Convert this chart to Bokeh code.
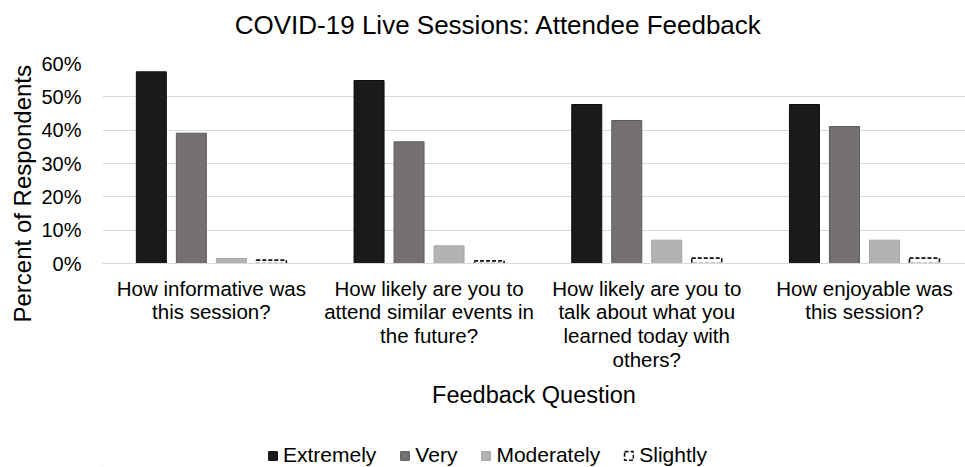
from bokeh.plotting import figure
from bokeh.layouts import column
from bokeh.models import (ColumnDataSource, Range1d, FixedTicker, PrintfTickFormatter,
                          Legend, LegendItem, Title)
from bokeh.core.properties import value
from bokeh.transform import dodge
from bokeh.embed import file_html
from bokeh.resources import INLINE

# ---- data ----
chart_title = "COVID-19 Live Sessions: Attendee Feedback"
questions = [
    "How informative was\nthis session?",
    "How likely are you to\nattend similar events in\nthe future?",
    "How likely are you to\ntalk about what you\nlearned today with\nothers?",
    "How enjoyable was\nthis session?",
]
series = ["Extremely", "Very", "Moderately", "Slightly"]
extremely = [57.5, 54.9, 47.7, 47.7]
very = [39.1, 36.5, 42.9, 41.1]
moderately = [1.5, 5.3, 7.0, 7.0]
slightly = [1.0, 0.8, 1.6, 1.6]
y_ticks = [0, 10, 20, 30, 40, 50, 60]

FONT = "Liberation Sans"
W = 965
LEFT = 102  # frame left edge (frames of the stacked figures are aligned)

# ---- title strip ----
tf = figure(width=W, height=40, output_backend="svg", toolbar_location=None,
            x_range=Range1d(LEFT, W), y_range=Range1d(0, 40),
            x_axis_location=None, y_axis_location=None,
            min_border_left=LEFT, min_border_right=0, min_border_top=0,
            min_border_bottom=0)
tf.grid.visible = False
tf.outline_line_color = None
tf.text(x=[498], y=[16], text=[chart_title], text_align="center",
        text_baseline="middle", text_font=value(FONT), text_font_size="26px",
        text_color="black")

# ---- main chart ----
pos = [i + 0.5 for i in range(len(questions))]
src = ColumnDataSource(dict(x=pos, Extremely=extremely, Very=very,
                            Moderately=moderately, Slightly=slightly))

p = figure(width=W, height=390, output_backend="svg", toolbar_location=None,
           x_range=Range1d(0, 863 / 217.7), y_range=Range1d(0, 60),
           min_border_left=LEFT, min_border_right=0, min_border_top=23,
           min_border_bottom=167)
p.outline_line_color = None
p.background_fill_color = "white"

step = 40 / 217.7
bw = 30 / 217.7
styles = {
    "Extremely": dict(fill_color="#1a1a1a", line_color="#0d0d0d", line_width=1),
    "Very": dict(fill_color="#767171", line_color="#5f5b5b", line_width=1),
    "Moderately": dict(fill_color="#b3b3b3", line_color="#a5a5a5", line_width=1),
    "Slightly": dict(fill_color="white", line_color="#111111", line_width=1.6,
                     line_dash="4 2"),
}
for i, s in enumerate(series):
    off = (i - 1.5) * step
    p.vbar(x=dodge("x", off, range=p.x_range), top=s, width=bw, source=src,
           **styles[s])

p.xaxis.ticker = FixedTicker(ticks=pos)
p.xaxis.major_label_overrides = {pos[i]: q for i, q in enumerate(questions)}
p.xaxis.major_label_text_font = FONT
p.xaxis.major_label_text_font_size = "20.5px"
p.xaxis.major_label_text_color = "black"
p.xaxis.major_label_text_line_height = 1.04
p.xaxis.major_label_standoff = 7
p.xaxis.major_tick_line_color = None
p.xaxis.minor_tick_line_color = None
p.xaxis.axis_line_color = "#d9d9d9"
p.xaxis.axis_label = "Feedback Question"
p.xaxis.axis_label_text_font = FONT
p.xaxis.axis_label_text_font_size = "23.5px"
p.xaxis.axis_label_text_font_style = "normal"
p.xaxis.axis_label_text_color = "black"
p.xaxis.axis_label_standoff = 8

p.yaxis.ticker = FixedTicker(ticks=y_ticks)
p.yaxis.formatter = PrintfTickFormatter(format="%d%%")
p.yaxis.major_label_text_font = FONT
p.yaxis.major_label_text_font_size = "20px"
p.yaxis.major_label_text_color = "black"
p.yaxis.major_label_standoff = 15
p.yaxis.major_tick_line_color = None
p.yaxis.minor_tick_line_color = None
p.yaxis.axis_line_color = None

p.xgrid.grid_line_color = None
p.ygrid.grid_line_color = "#d9d9d9"
p.ygrid.grid_line_width = 1

ytitle = Title(text="Percent of Respondents", align="left", offset=-59,
               text_font=FONT, text_font_size="24px", text_font_style="normal",
               text_color="black", standoff=6)
p.add_layout(ytitle, "left")

# ---- legend strip ----
lf = figure(width=W, height=37, output_backend="svg", toolbar_location=None,
            x_range=Range1d(0, 1), y_range=Range1d(0, 1),
            x_axis_location=None, y_axis_location=None,
            min_border_left=LEFT, min_border_right=0, min_border_top=0,
            min_border_bottom=0)
lf.grid.visible = False
lf.outline_line_color = None
# off-range helper glyphs, only used to draw the legend swatches
helper = ColumnDataSource(dict(x=[-5], top=[0]))
items = []
for s in series:
    r = lf.vbar(x="x", top="top", width=0.1, source=helper, **styles[s])
    items.append(LegendItem(label=s, renderers=[r]))

legend = Legend(items=items, orientation="horizontal", location=(267 - LEFT, 0),
                glyph_width=11, glyph_height=11, label_standoff=5, spacing=23,
                padding=0, margin=0, border_line_color=None,
                background_fill_alpha=0, label_text_font=FONT,
                label_text_font_size="21px", label_text_color="black",
                label_height=20)
lf.add_layout(legend)

layout = column(tf, p, lf, spacing=0)
open("out.html", "w").write(file_html(layout, INLINE))
